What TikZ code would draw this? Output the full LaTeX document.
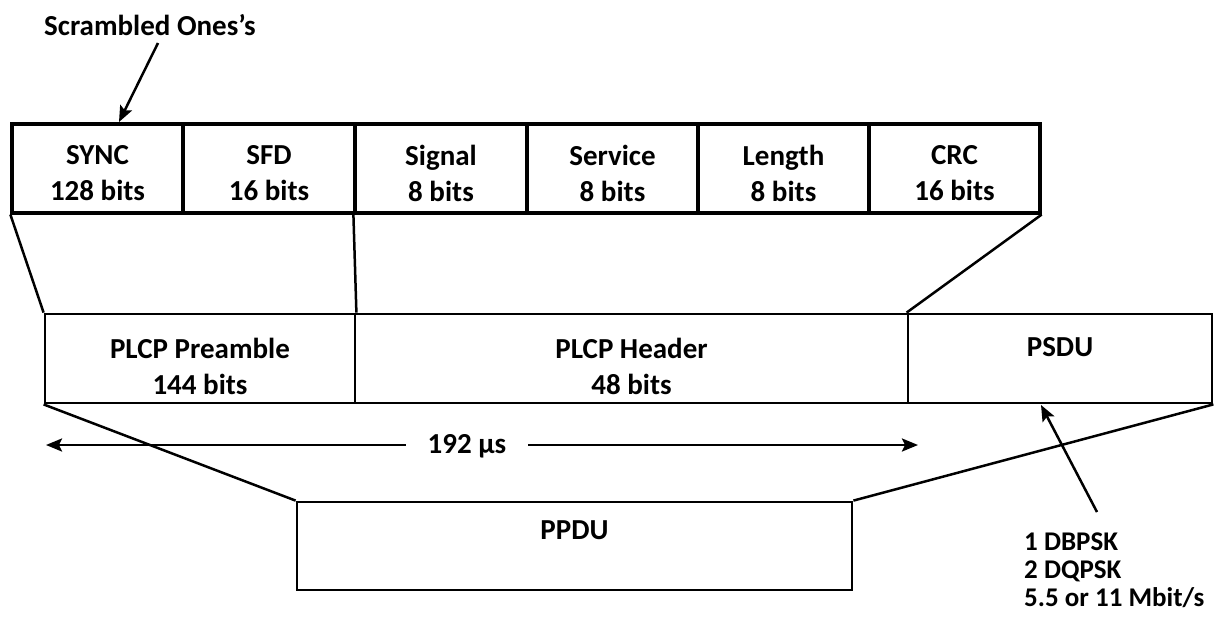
\documentclass[tikz,border=0pt]{standalone}
\usepackage{fontspec}
\setmainfont{Carlito}
\usetikzlibrary{arrows.meta}
\begin{document}
\begin{tikzpicture}[x=1pt,y=-1pt,
  txt/.style={font=\fontsize{29}{36}\selectfont\bfseries, align=center, inner sep=0pt},
  topbox/.style={draw, line width=3.2pt, minimum height=89pt, inner sep=0pt},
  midbox/.style={draw, line width=2.8pt, minimum height=89pt, inner sep=0pt},
  link/.style={line width=2.5pt},
  arr/.style={line width=2.5pt, -{Stealth[length=16pt,width=13pt,inset=3pt]}}]
\useasboundingbox (0,0) rectangle (1217,616);
% top row
\node[topbox, minimum width=171pt] (sync) at (97.5,168.5) {};
\node[topbox, minimum width=172pt] (sfd) at (269,168.5) {};
\node[topbox, minimum width=172pt] (sig) at (441,168.5) {};
\node[topbox, minimum width=171pt] (serv) at (612.5,168.5) {};
\node[topbox, minimum width=171pt] (len) at (783.5,168.5) {};
\node[topbox, minimum width=171pt] (crc) at (954.5,168.5) {};
\node[txt] (synct) at (97.5,173) {SYNC\\128 bits};
\node[txt] (sfdt) at (269,173) {SFD\\16 bits};
\node[txt] (sigt) at (441,173) {Signal\\8 bits};
\node[txt] (servt) at (612.5,173) {Service\\8 bits};
\node[txt] (lent) at (783.5,173) {Length\\8 bits};
\node[txt] (crct) at (954.5,173) {CRC\\16 bits};
% middle row
\node[midbox, minimum width=310pt] (pre) at (200,358.5) {};
\node[midbox, minimum width=553pt] (hdr) at (631.5,358.5) {};
\node[midbox, minimum width=304pt] (psdu) at (1060,358.5) {};
\node[txt] (pretxt) at (200,366) {PLCP Preamble\\144 bits};
\node[txt] (hdrtxt) at (631.5,366) {PLCP Header\\48 bits};
\node[txt] (psdutxt) at (1060,347) {PSDU};
% bottom box
\node[midbox, minimum width=555pt, minimum height=88pt] (ppdu) at (574.5,546) {};
\node[txt] (ppdutxt) at (574.5,530) {PPDU};
% connecting lines
\draw[link] (sync.south west) -- (pre.north west);
\draw[link] (sig.south west) -- (pre.north east);
\draw[link] (crc.south east) -- (psdu.north west);
\draw[link] (pre.south west) -- (ppdu.north west);
\draw[link] (psdu.south east) -- (ppdu.north east);
% scrambled ones
\node[txt] (scr) at (150,25) {Scrambled Ones’s};
\coordinate (scrt) at (158,43);
\coordinate (scrh) at (119,122);
\draw[arr] (scrt) -- (scrh);
% 192 us
\node[txt, inner xsep=22pt] (dur) at (467,446) {192 µs};
\coordinate (durL) at (46,445);
\coordinate (durR) at (918,445);
\draw[arr] (dur.west |- durL) -- (durL);
\draw[arr] (dur.east |- durR) -- (durR);
% modulation
\node[font=\fontsize{27}{28}\selectfont\bfseries, align=left, inner sep=0pt, anchor=north west] (mod) at (1024,533) {1 DBPSK\\2 DQPSK\\5.5 or 11 Mbit/s};
\coordinate (modt) at (1097,512);
\coordinate (modh) at (1041,405);
\draw[arr] (modt) -- (modh);
\end{tikzpicture}
\end{document}
